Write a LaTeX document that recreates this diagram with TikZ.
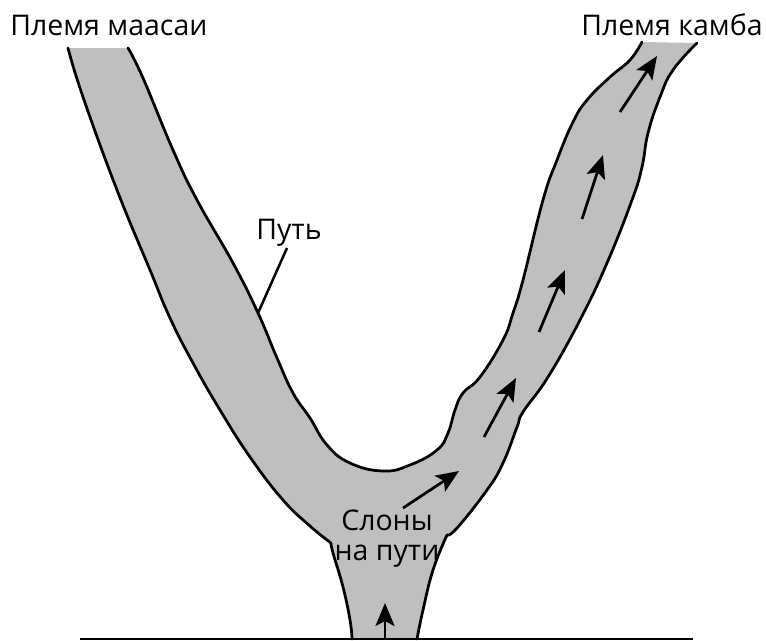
\documentclass[tikz,border=0pt]{standalone}
\usepackage{fontspec}
\setmainfont{Open Sans}
\usetikzlibrary{arrows.meta}
\definecolor{trailgray}{RGB}{191,191,191}
\tikzset{>={Stealth[length=0.46cm,width=0.38cm,inset=0.1cm]}}
\tikzset{edgeline/.style={line width=0.055cm,line cap=round,line join=round}}
\tikzset{moveline/.style={line width=0.055cm,->}}
\tikzset{lbl/.style={font=\fontsize{16.2}{17}\selectfont,inner sep=0pt}}
\tikzset{curve/.style={smooth,tension=0.75}}
\def\outerleft{(68,48) (83,97) (117,190) (150,270) (170,318) (193,363) (220,410) (250,457) (283,500) (310,526) (331,543)}
\def\stemleft{(331,543) (333,553) (343,587) (350,620) (352,639)}
\def\stemright{(417,639) (423,610) (433,570) (447,535)}
\def\outerright{(447,535) (457,528) (487,490) (503,463) (517,427) (523,412) (548,377) (580,320) (607,263) (632,200) (642,167) (648,133) (660,97) (673,70) (697,43)}
\def\inneredge{(642,42) (630,60) (610,77) (587,100) (573,122) (557,160) (543,200) (523,280) (513,313) (503,340) (480,377) (463,393) (455,410) (448,433) (437,450) (410,465) (383,471) (350,463) (327,445) (310,418) (293,393) (277,358) (258,313) (233,263) (197,200) (173,150) (143,78) (128,48)}

\begin{document}
\begin{tikzpicture}[x=0.02cm,y=-0.02cm]
  \useasboundingbox (0,0) rectangle (766,640);

  % fill of the trail
  \fill[trailgray] plot[curve] coordinates {\outerleft}
    -- plot[curve] coordinates {\stemleft}
    -- plot[curve] coordinates {\stemright}
    -- plot[curve] coordinates {\outerright}
    -- plot[curve] coordinates {\inneredge}
    -- cycle;

  % edges of the trail
  \draw[edgeline] plot[curve] coordinates {\outerleft};
  \draw[edgeline] plot[curve] coordinates {\stemleft};
  \draw[edgeline] plot[curve] coordinates {\stemright};
  \draw[edgeline] plot[curve] coordinates {\outerright};
  \draw[edgeline] plot[curve] coordinates {\inneredge};

  % ground line
  \coordinate (g1) at (80,639);
  \coordinate (g2) at (693,639);
  \draw[line width=0.035cm] (g1) -- (g2);

  % arrows along the trail
  \coordinate (a1) at (385,639);
  \coordinate (b1) at (385,603);
  \coordinate (a2) at (403,508);
  \coordinate (b2) at (459,471);
  \coordinate (a3) at (484,437);
  \coordinate (b3) at (516,378);
  \coordinate (a4) at (539,332);
  \coordinate (b4) at (565,270);
  \coordinate (a5) at (582,219);
  \coordinate (b5) at (603,155);
  \coordinate (a6) at (620,112);
  \coordinate (b6) at (657,56);
  \foreach \i in {1,...,6}
    \draw[moveline] (a\i) -- (b\i);

  % labels
  \node[lbl,anchor=west] (maasai) at (10,25) {Племя маасаи};
  \node[lbl,anchor=east] (kamba) at (763,25) {Племя камба};
  \node[lbl] (path) at (289,233) {Путь};
  \node[lbl,align=center] (elephants) at (387,539) {Слоны\\на пути};

  % leader of the path label
  \coordinate (lead) at (287,248);
  \coordinate (touch) at (258,313);
  \draw[line width=0.05cm] (lead) -- (touch);
\end{tikzpicture}
\end{document}
